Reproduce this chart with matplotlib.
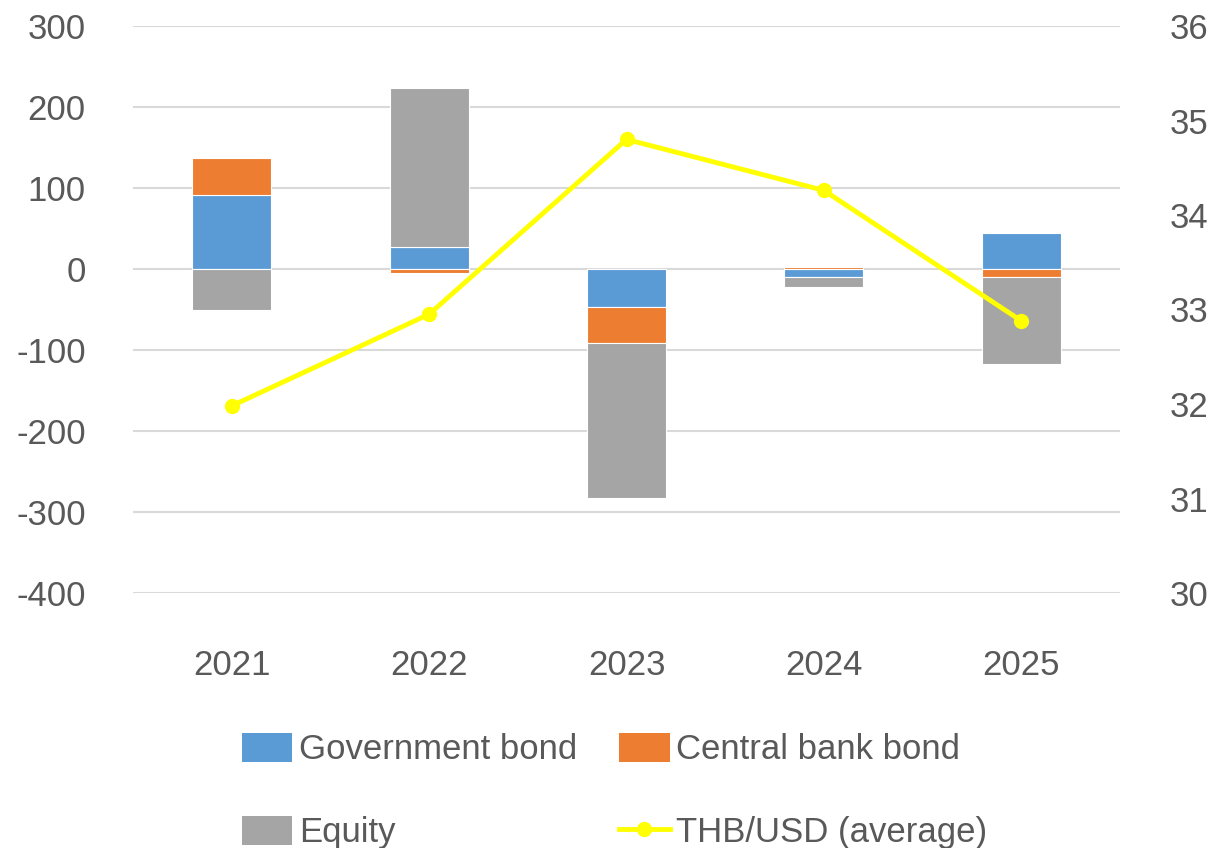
import matplotlib
matplotlib.use("Agg")
import matplotlib.pyplot as plt
import numpy as np
from matplotlib.patches import Patch
from matplotlib.lines import Line2D

years = ["2021", "2022", "2023", "2024", "2025"]
government_bond = [91, 27, -47, -10, 44]
central_bank_bond = [46, -5, -44, 3, -10]
equity = [-51, 196, -192, -12, -107]
thb_usd = [31.98, 32.95, 34.80, 34.26, 32.88]

left_ticks = [300, 200, 100, 0, -100, -200, -300, -400]
right_ticks = [36, 35, 34, 33, 32, 31, 30]

c_gov = "#5B9BD5"
c_cb = "#ED7D31"
c_eq = "#A5A5A5"
c_line = "#FFFF00"
c_text = "#595959"
c_grid = "#D9D9D9"

plt.rcParams["font.family"] = ["Liberation Sans", "DejaVu Sans"]
plt.rcParams["font.size"] = 25

fig = plt.figure(figsize=(12.19, 8.48), dpi=100)
ax = fig.add_axes([133 / 1219, 1 - 593 / 848, (1120 - 133) / 1219, (593 - 26) / 848])

x = np.arange(len(years))
width = 0.4
pos_base = np.zeros(len(years))
neg_base = np.zeros(len(years))
for vals, col in [(government_bond, c_gov), (central_bank_bond, c_cb), (equity, c_eq)]:
    v = np.array(vals, dtype=float)
    bottoms = np.where(v >= 0, pos_base, neg_base)
    ax.bar(x, v, width, bottom=bottoms, color=col, edgecolor="white",
           linewidth=0.8, zorder=3)
    pos_base = pos_base + np.where(v >= 0, v, 0)
    neg_base = neg_base + np.where(v < 0, v, 0)

ax.set_xlim(-0.5, len(years) - 0.5)
ax.set_ylim(-400, 300)
ax.set_yticks(left_ticks)
ax.set_yticklabels([str(t) for t in left_ticks])
ax.set_xticks(x)
ax.set_xticklabels(years)
ax.grid(axis="y", color=c_grid, linewidth=1.5, zorder=0)
ax.set_axisbelow(True)
for s in ax.spines.values():
    s.set_visible(False)
ax.tick_params(axis="both", length=0, colors=c_text, labelsize=25)
ax.tick_params(axis="y", pad=34)
ax.tick_params(axis="x", pad=40)

ax2 = ax.twinx()
ax2.plot(x, thb_usd, color=c_line, linewidth=3.5, marker="o", markersize=10,
         zorder=5)
ax2.set_ylim(30, 36)
ax2.set_yticks(right_ticks)
ax2.set_yticklabels([str(t) for t in right_ticks])
for s in ax2.spines.values():
    s.set_visible(False)
ax2.tick_params(axis="y", length=0, colors=c_text, labelsize=25, pad=36)

handles = [
    Patch(facecolor=c_gov, label="Government bond"),
    Patch(facecolor=c_eq, label="Equity"),
    Patch(facecolor=c_cb, label="Central bank bond"),
    Line2D([0], [0], color=c_line, linewidth=3.5, marker="o", markersize=10,
           label="THB/USD (average)"),
]
leg = fig.legend(handles=handles, ncol=2, loc="upper left",
                 bbox_to_anchor=(242 / 1219, 1 - 733 / 848), frameon=False,
                 fontsize=25, handlelength=1.45, handleheight=0.9,
                 handletextpad=0.2, columnspacing=1.2, labelspacing=1.42,
                 borderaxespad=0, borderpad=0)
for t in leg.get_texts():
    t.set_color(c_text)

fig.savefig("out.png", dpi=100)
